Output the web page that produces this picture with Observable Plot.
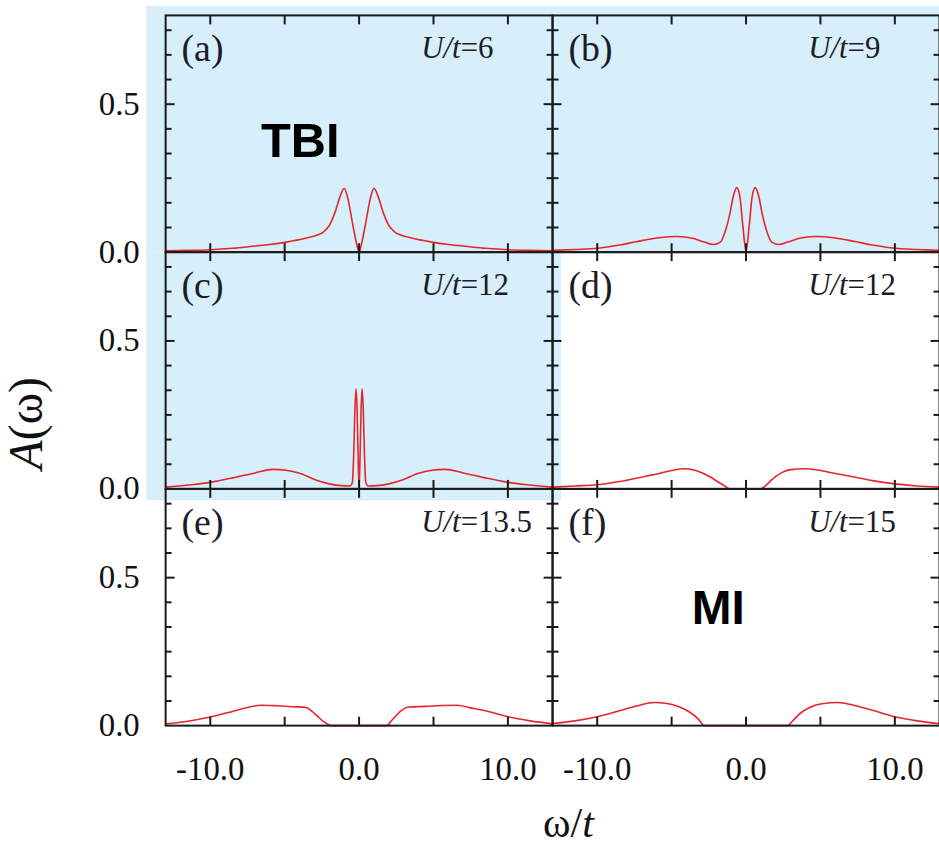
<!DOCTYPE html>
<html><head><meta charset="utf-8">
<script src="https://cdn.jsdelivr.net/npm/d3@7"></script>
<script src="https://cdn.jsdelivr.net/npm/@observablehq/plot@0.6"></script>
<style>html,body{margin:0;padding:0;background:#fff;overflow:hidden;width:939px;height:850px}</style>
</head><body><div id="chart"></div>
<script>
// ---- data ----
const panelLetters = ["a", "b", "c", "d", "e", "f"];
const panelCol = [0, 1, 0, 1, 0, 1];
const panelRow = [0, 0, 1, 1, 2, 2];
const utLabels = ["U/t=6", "U/t=9", "U/t=12", "U/t=12", "U/t=13.5", "U/t=15"];

const xTicks = [-10, -5, 0, 5, 10];
const xTickLabels = [-10, 0, 10];
const yTickLabels = [0, 0.5];
const yMajorTicks = [0.5];
const yMinorTicks = [0.0833, 0.1667, 0.25, 0.3333, 0.4167, 0.5833, 0.6667, 0.75];
const xDomain = [-13, 13];
const yDomain = [0, 0.8];

const omegaA = [-13,-11.5,-10,-8.5,-7.3,-6,-4.9,-3.6,-2.8,-2.4,-2.0,-1.6,-1.3,-1.0,-0.75,-0.45,-0.15,0,0.15,0.45,0.75,1.0,1.3,1.6,2.0,2.4,2.8,3.6,4.9,6,7.3,8.5,10,11.5,13];
const specA  = [0.005,0.006,0.008,0.013,0.019,0.026,0.034,0.047,0.058,0.068,0.09,0.137,0.185,0.216,0.18,0.10,0.025,0.0,0.025,0.10,0.18,0.216,0.185,0.137,0.09,0.068,0.058,0.047,0.034,0.026,0.019,0.013,0.008,0.006,0.005];

const omegaB = [-13,-11.5,-10,-8.5,-7.4,-6,-4.6,-3.6,-2.8,-2.2,-1.75,-1.4,-1.1,-0.85,-0.62,-0.42,-0.22,0,0.22,0.42,0.62,0.85,1.1,1.4,1.75,2.2,2.8,3.6,4.6,6,7.4,8.5,10,11.5,13];
const specB  = [0.006,0.009,0.013,0.024,0.035,0.048,0.053,0.047,0.034,0.026,0.033,0.07,0.126,0.19,0.218,0.19,0.092,0.003,0.092,0.19,0.218,0.19,0.126,0.07,0.033,0.026,0.034,0.047,0.053,0.048,0.035,0.024,0.013,0.009,0.006];

const omegaC = [-13,-11.5,-10,-8.4,-7,-5.8,-4.9,-4,-2.9,-2,-1.2,-0.6,-0.45,-0.36,-0.28,-0.2,-0.13,-0.07,0,0.07,0.13,0.2,0.28,0.36,0.45,0.6,1.2,2,2.9,4,4.9,5.8,7,8.4,10,11.5,13];
const specC  = [0.006,0.013,0.022,0.038,0.054,0.066,0.063,0.053,0.03,0.017,0.011,0.01,0.022,0.12,0.27,0.338,0.26,0.12,0.0,0.12,0.26,0.338,0.27,0.12,0.022,0.01,0.011,0.017,0.03,0.053,0.063,0.066,0.054,0.038,0.022,0.013,0.006];

const omegaD = [-13,-11.5,-10,-8.5,-7.3,-6,-5,-4.1,-3.5,-2.9,-2.4,-1.9,-1.4,-1.1,0,1.0,1.3,1.8,2.4,3.0,3.9,4.9,6,7.1,8.5,10,11.5,13];
const specD  = [0.006,0.01,0.014,0.025,0.037,0.05,0.062,0.068,0.064,0.053,0.04,0.024,0.009,0.0,0.0,0.0,0.01,0.034,0.055,0.065,0.068,0.063,0.052,0.042,0.028,0.017,0.01,0.006];

const omegaE = [-13,-11.5,-10,-8.5,-7.5,-6.6,-5.5,-4.5,-3.6,-3.2,-2.8,-2.4,-2.0,-1.8,1.85,2.2,2.7,3.3,4.5,5.5,6.6,7.5,8.5,10,11.5,13];
const specE  = [0.006,0.015,0.029,0.048,0.061,0.069,0.067,0.064,0.062,0.05,0.032,0.014,0.002,0,0,0.018,0.045,0.063,0.065,0.068,0.069,0.06,0.05,0.03,0.016,0.006];

const omegaF = [-13,-11.5,-10,-8.5,-7.3,-6.2,-5.3,-4.5,-3.8,-3.2,-2.8,2.8,3.1,3.6,4.3,5.1,6.2,7.3,8.5,10,11.5,13];
const specF  = [0.007,0.016,0.03,0.05,0.067,0.078,0.075,0.064,0.046,0.022,0,0,0.014,0.04,0.062,0.074,0.078,0.068,0.052,0.03,0.016,0.007];

const omegas = [omegaA, omegaB, omegaC, omegaD, omegaE, omegaF];
const specs = [specA, specB, specC, specD, specE, specF];

// ---- tables ----
const rows = [];
panelLetters.forEach((p, i) => {
  omegas[i].forEach((w, j) => rows.push({panel: p, col: panelCol[i], row: panelRow[i], omega: w, A: specs[i][j]}));
});
const panels = panelLetters.map((p, i) => ({panel: p, letter: `(${p})`, ut: utLabels[i], col: panelCol[i], row: panelRow[i]}));
const byPanel = (p) => panels.filter(d => d.panel === p);

// ---- layout ----
const width = 944, height = 850;
const mL = 166, mR = 0, mT = 15, mB = 121;
const fW = (width - mL - mR) / 2, fH = (height - mT - mB) / 3;
const blue = "#d6effa", ink = "#1c1c28", red = "#e8242c", frameColor = "#1a1a1a";
const bgOpts = {fx: "col", fy: "row", x1: xDomain[0], x2: xDomain[1], y1: yDomain[0], y2: yDomain[1], fill: blue};
const fmt = d => d.toFixed(1);

const chart = Plot.plot({
  width, height,
  marginLeft: mL, marginRight: mR, marginTop: mT, marginBottom: mB,
  x: {domain: xDomain, ticks: xTickLabels, tickSize: 0, tickPadding: 31, tickFormat: fmt, label: null},
  y: {domain: yDomain, ticks: yTickLabels, tickSize: 0, tickPadding: 26, tickFormat: fmt, label: null},
  fx: {domain: [0, 1], padding: 0, axis: null},
  fy: {domain: [0, 1, 2], padding: 0, axis: null},
  style: {fontFamily: "'Liberation Serif', 'Times New Roman', serif", fontSize: "33px", color: "#111", background: "transparent", overflow: "visible"},
  marks: [
    Plot.rect(byPanel("a"), {...bgOpts, insetLeft: -19, insetTop: -9}),
    Plot.rect(byPanel("b"), {...bgOpts, insetTop: -9, insetRight: -10}),
    Plot.rect(byPanel("c"), {...bgOpts, insetLeft: -19, insetRight: -9, insetBottom: -12}),
    Plot.line(rows, {fx: "col", fy: "row", x: "omega", y: "A", z: "panel", stroke: red, strokeWidth: 1.6, curve: "monotone-x"}),
    Plot.frame({stroke: frameColor, strokeWidth: 2}),
    Plot.text(panels, {fx: "col", fy: "row", text: "letter", frameAnchor: "top-left", textAnchor: "start", lineAnchor: "top", dx: 16, dy: 19, fontSize: 38, fill: ink}),
    Plot.text(panels, {fx: "col", fy: "row", text: "ut", frameAnchor: "top-left", textAnchor: "start", lineAnchor: "top", dx: 257, dy: 21, fontSize: 31, fill: ink}),
    Plot.text(byPanel("a"), {fx: "col", fy: "row", text: () => "TBI", frameAnchor: "top-left", textAnchor: "start", lineAnchor: "top", dx: 96, dy: 108, fontSize: 49, fontWeight: "bold", fontFamily: "'Liberation Sans', Arial, sans-serif", fill: "#000"}),
    Plot.text(byPanel("f"), {fx: "col", fy: "row", text: () => "MI", frameAnchor: "top-left", textAnchor: "start", lineAnchor: "top", dx: 140, dy: 102, fontSize: 48, fontWeight: "bold", fontFamily: "'Liberation Sans', Arial, sans-serif", fill: "#000"}),
    Plot.text(byPanel("c"), {fx: "col", fy: "row", text: () => "A(ω)", frameAnchor: "left", rotate: -90, textAnchor: "middle", lineAnchor: "middle", dx: -140, dy: 53, fontSize: 48, fill: "#111"}),
    Plot.text(byPanel("e"), {fx: "col", fy: "row", text: () => "ω/t", frameAnchor: "bottom-right", textAnchor: "middle", lineAnchor: "top", dx: 16, dy: 82, fontSize: 42, fill: "#111"})
  ]
});

// mixed italic in labels
const NS = "http://www.w3.org/2000/svg";
function rebuild(t, parts) {
  while (t.firstChild) t.removeChild(t.firstChild);
  for (const [s, it] of parts) {
    const sp = document.createElementNS(NS, "tspan");
    if (it) sp.setAttribute("font-style", "italic");
    sp.textContent = s;
    t.appendChild(sp);
  }
}
for (const t of chart.querySelectorAll("text")) {
  const s = t.textContent;
  if (s.startsWith("U/t")) rebuild(t, [["U/t", true], [s.slice(3), false]]);
  else if (s === "A(ω)") rebuild(t, [["A", true], ["(ω)", false]]);
  else if (s === "ω/t") rebuild(t, [["ω/", false], ["t", true]]);
}

// frame on top of the curves
for (const g of chart.querySelectorAll('g[aria-label="frame"]')) {
  if (g.parentNode === chart) chart.appendChild(g);
}

// inward frame ticks, positioned through the plot's own scales
try {
  const sx = chart.scale("x"), sy = chart.scale("y");
  let sfx = null, sfy = null;
  try { sfx = chart.scale("fx"); sfy = chart.scale("fy"); } catch (e) {}
  const ox = c => (sfx && sfx.apply ? sfx.apply(c) : mL + c * fW) - mL;
  const oy = r => (sfy && sfy.apply ? sfy.apply(r) : mT + r * fH) - mT;
  const g = d3.select(chart).append("g")
    .attr("stroke", frameColor).attr("stroke-width", 2)
    .attr("transform", "translate(0.5,0.5)");
  const seg = (x1, y1, x2, y2) => g.append("line").attr("x1", x1).attr("y1", y1).attr("x2", x2).attr("y2", y2);
  panels.forEach(p => {
    const dx = ox(p.col), dy = oy(p.row);
    const yb = dy + sy.apply(yDomain[0]), yt = dy + sy.apply(yDomain[1]);
    const xl = dx + sx.apply(xDomain[0]), xr = dx + sx.apply(xDomain[1]);
    xTicks.forEach(v => { const x = dx + sx.apply(v); seg(x, yb - 9, x, yb); seg(x, yt, x, yt + 9); });
    yMinorTicks.forEach(v => { const y = dy + sy.apply(v); seg(xl, y, xl + 6, y); seg(xr - 6, y, xr, y); });
    yMajorTicks.forEach(v => { const y = dy + sy.apply(v); seg(xl, y, xl + 9, y); seg(xr - 9, y, xr, y); });
  });
} catch (e) { console.error(e); }

document.getElementById("chart").appendChild(chart);
</script></body></html>
